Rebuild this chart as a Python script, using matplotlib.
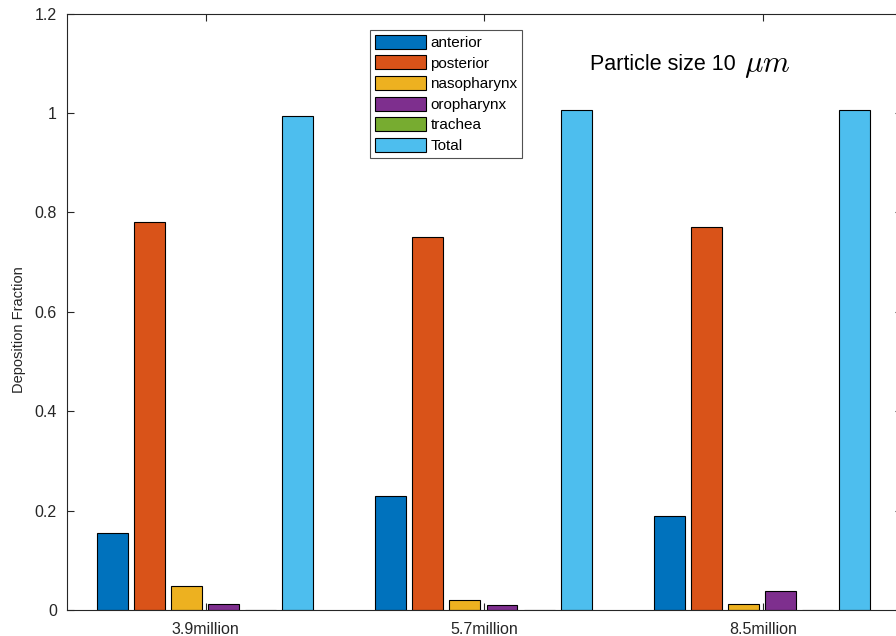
import numpy as np
import matplotlib
matplotlib.use('Agg')
import matplotlib.pyplot as plt

# Данные: доля осаждения по отделам для трёх расходов
groups = ['3.9million', '5.7million', '8.5million']
anterior = [0.155, 0.229, 0.189]
posterior = [0.781, 0.751, 0.771]
nasopharynx = [0.048, 0.020, 0.012]
oropharynx = [0.012, 0.010, 0.038]
trachea = [0.001, 0.001, 0.001]
total = [0.994, 1.006, 1.006]

series = [anterior, posterior, nasopharynx, oropharynx, trachea, total]
names = ['anterior', 'posterior', 'nasopharynx', 'oropharynx', 'trachea', 'Total']
colors = ['#0072BD', '#D95319', '#EDB120', '#7E2F8E', '#77AC30', '#4DBEEE']

plt.rcParams['font.family'] = ['Liberation Sans', 'DejaVu Sans']
plt.rcParams['mathtext.fontset'] = 'cm'

fig = plt.figure(figsize=(8.96, 6.36), dpi=100)
W, H = 896, 636
left, right, top, bottom = 66.5, 902, 13.5, 610
ax = fig.add_axes([left / W, 1 - bottom / H, (right - left) / W, (bottom - top) / H])

x = np.arange(1, len(groups) + 1)
step = 0.8 / 6
width = 0.111
for i, (vals, name, c) in enumerate(zip(series, names, colors)):
    offs = (i - 2.5) * step
    ax.bar(x + offs - 0.003, vals, width, color=c, edgecolor='black', linewidth=0.8, label=name)

ax.set_xlim(0.5, 3.5)
ax.set_ylim(0, 1.2)
ax.set_xticks(x)
ax.set_xticklabels(groups)
yt = [0, 0.2, 0.4, 0.6, 0.8, 1.0, 1.2]
ax.set_yticks(yt)
ax.set_yticklabels(['0', '0.2', '0.4', '0.6', '0.8', '1', '1.2'])
ax.tick_params(direction='in', top=True, right=True, length=5, width=0.8,
               labelsize=11.5, colors='#262626')
ax.tick_params(axis='x', pad=9)
ax.tick_params(axis='y', pad=7)
for s in ax.spines.values():
    s.set_color('#262626')
    s.set_linewidth(0.8)
ax.set_ylabel('Deposition Fraction', fontsize=10.5, color='#262626')
ax.yaxis.set_label_coords(-0.048, 0.47)

# подпись: обычный текст + μm отдельно (крупнее, как в оригинале)
ax.text(590, 636 - 65, 'Particle size 10', transform=None, fontsize=15.5,
        va='center', ha='left')
ax.text(744, 636 - 72, r'$\mu m$', transform=None, fontsize=22,
        va='baseline', ha='left')

leg = ax.legend(loc='upper left', bbox_to_anchor=((370 - left) / (right - left), 1 - (30 - top) / (bottom - top)),
                fontsize=11, frameon=True, fancybox=False, edgecolor='#262626',
                handlelength=3.35, handleheight=1.05, labelspacing=0.35,
                borderpad=0.3, handletextpad=0.3, borderaxespad=0)
leg.get_frame().set_linewidth(0.8)

fig.savefig('out.png', dpi=100)
